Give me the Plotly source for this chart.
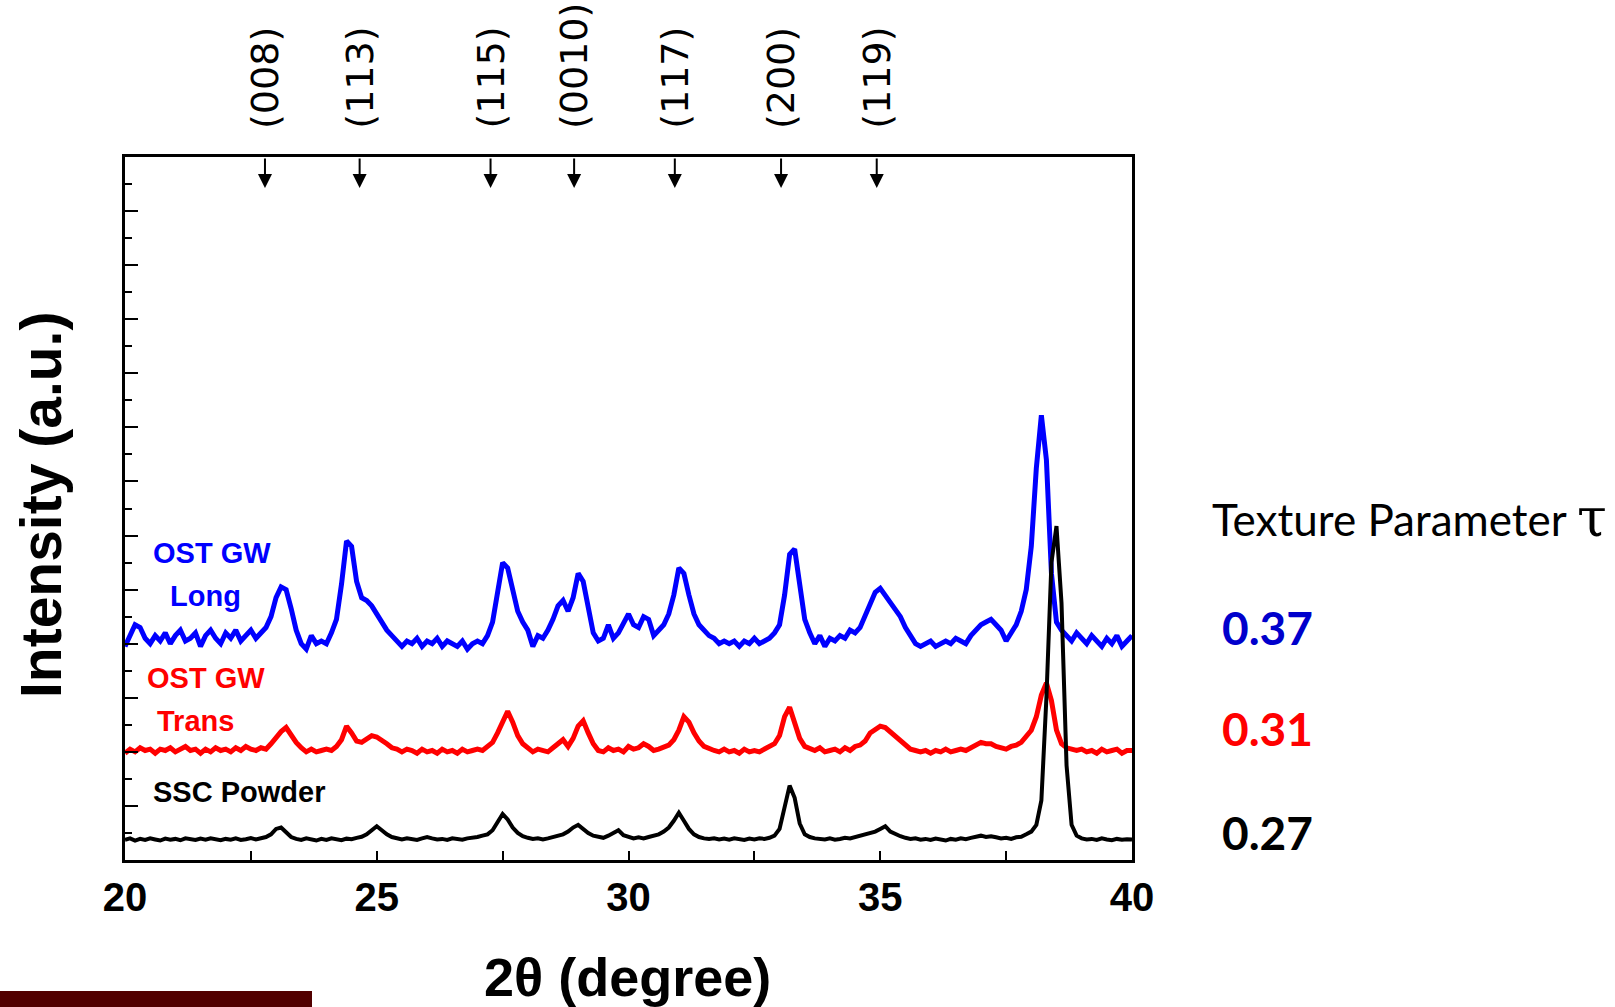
import plotly.graph_objects as go

# ---------------- data ----------------
two_theta = [round(20 + 0.1 * i, 1) for i in range(201)]

ost_gw_long = [
    7.9, 8.3, 8.7, 8.6, 8.2, 8.0, 8.3, 8.1, 8.4, 8.0,
    8.3, 8.5, 8.1, 8.2, 8.4, 7.9, 8.3, 8.5, 8.2, 8.0,
    8.4, 8.2, 8.5, 8.1, 8.3, 8.5, 8.2, 8.4, 8.6, 9.0,
    9.7, 10.1, 10.0, 9.3, 8.5, 8.0, 7.8, 8.3, 8.0, 8.1,
    8.0, 8.4, 8.9, 10.2, 11.8, 11.6, 10.3, 9.7, 9.6, 9.4,
    9.1, 8.8, 8.5, 8.3, 8.1, 7.9, 8.1, 8.0, 8.2, 7.9,
    8.1, 8.0, 8.2, 7.9, 8.1, 8.0, 7.9, 8.1, 7.8, 8.0,
    8.1, 8.0, 8.3, 8.8, 10.0, 11.0, 10.8, 9.9, 9.2, 8.8,
    8.5, 7.9, 8.3, 8.2, 8.5, 8.9, 9.4, 9.6, 9.2, 9.7,
    10.6, 10.3, 9.4, 8.4, 8.1, 8.2, 8.7, 8.2, 8.4, 8.8,
    9.1, 8.7, 8.6, 9.0, 8.9, 8.3, 8.5, 8.7, 9.1, 9.8,
    10.8, 10.6, 9.8, 9.1, 8.7, 8.5, 8.3, 8.2, 8.0, 8.1,
    8.0, 8.1, 7.9, 8.1, 8.0, 8.2, 8.0, 8.1, 8.2, 8.4,
    8.7, 9.8, 11.3, 11.5, 10.1, 8.9, 8.4, 8.0, 8.3, 7.9,
    8.2, 8.1, 8.3, 8.2, 8.5, 8.4, 8.6, 9.0, 9.4, 9.9,
    10.05, 9.8, 9.5, 9.3, 9.0, 8.6, 8.3, 8.0, 7.9, 8.0,
    8.1, 7.9, 8.0, 8.1, 8.0, 8.2, 8.1, 8.0, 8.3, 8.5,
    8.7, 8.8, 8.9, 8.7, 8.5, 8.1, 8.4, 8.7, 9.2, 10.0,
    11.6, 14.5, 16.45, 14.8, 10.6, 8.8, 8.5, 8.3, 8.1, 8.4,
    8.2, 8.0, 8.3, 8.1, 7.9, 8.2, 8.0, 8.3, 7.9, 8.1,
    8.3,
]

ost_gw_trans = [
    3.95, 4.1, 4.0, 4.15, 4.05, 4.1, 3.95, 4.1, 4.05, 4.15,
    4.0, 4.1, 4.2, 4.05, 4.1, 3.95, 4.1, 4.0, 4.15, 4.05,
    4.1, 4.0, 4.15, 4.05, 4.2, 4.1, 4.05, 4.15, 4.1, 4.3,
    4.55, 4.75, 4.9, 4.6, 4.35, 4.15, 4.0, 4.1, 4.0, 4.05,
    4.1, 4.05, 4.2, 4.45, 4.95, 4.7, 4.4, 4.35, 4.5, 4.6,
    4.55, 4.45, 4.3, 4.15, 4.1, 4.0, 4.1, 4.05, 3.95, 4.1,
    4.0, 4.05, 3.95, 4.1, 4.0, 4.05, 3.95, 4.1, 4.0, 4.05,
    4.1, 4.05, 4.2, 4.35, 4.7, 5.15, 5.5, 5.1, 4.6, 4.3,
    4.15, 4.0, 4.1, 4.05, 4.0, 4.15, 4.3, 4.45, 4.2, 4.5,
    4.95, 5.15, 4.7, 4.3, 4.05, 4.0, 4.15, 4.05, 4.1, 4.0,
    4.2, 4.1, 4.15, 4.3, 4.2, 4.05, 4.1, 4.2, 4.25, 4.45,
    4.8, 5.3, 5.1, 4.7, 4.4, 4.2, 4.1, 4.05, 4.0, 4.1,
    4.0, 4.05, 3.95, 4.1, 4.0, 4.05, 4.0, 4.1, 4.15, 4.3,
    4.6, 5.3, 5.65, 5.1, 4.5, 4.2, 4.1, 4.05, 4.15, 4.0,
    4.05, 4.1, 4.0, 4.15, 4.05, 4.2, 4.25, 4.4, 4.7, 4.85,
    4.95, 4.9, 4.75, 4.55, 4.4, 4.25, 4.1, 4.05, 4.0, 4.05,
    3.95, 4.05, 4.0, 4.1, 4.0, 4.05, 4.1, 4.05, 4.15, 4.2,
    4.35, 4.3, 4.3, 4.2, 4.15, 4.1, 4.2, 4.25, 4.35, 4.55,
    4.8, 5.3, 6.1, 6.55, 5.9, 4.8, 4.3, 4.15, 4.1, 4.05,
    4.1, 4.0, 4.05, 3.95, 4.1, 4.0, 4.05, 4.1, 3.95, 4.05,
    4.05,
]

ssc_powder = [
    0.75, 0.8, 0.72, 0.78, 0.74, 0.8, 0.76, 0.72, 0.79, 0.75,
    0.78, 0.73, 0.8, 0.76, 0.74, 0.79, 0.75, 0.8, 0.77, 0.73,
    0.78, 0.75, 0.8, 0.74, 0.77, 0.81, 0.76, 0.8, 0.85, 0.95,
    1.15, 1.2, 1.0, 0.85, 0.78, 0.74, 0.8, 0.76, 0.72, 0.78,
    0.74, 0.8, 0.76, 0.73, 0.79, 0.77, 0.82, 0.86, 0.95, 1.1,
    1.25, 1.1, 0.95, 0.85, 0.8, 0.76, 0.8, 0.78, 0.74, 0.8,
    0.85, 0.8, 0.76, 0.78, 0.74, 0.8, 0.77, 0.75, 0.8, 0.82,
    0.85, 0.9, 0.95, 1.1, 1.4, 1.7, 1.5, 1.2, 1.0, 0.88,
    0.82, 0.78, 0.8, 0.76, 0.8, 0.85, 0.9, 0.95, 1.05, 1.2,
    1.3, 1.15, 1.0, 0.9, 0.85, 0.82, 0.9, 1.0, 1.1, 0.92,
    0.85, 0.8, 0.84, 0.8, 0.85, 0.9, 0.95, 1.05, 1.2, 1.45,
    1.75, 1.45, 1.15, 0.95, 0.85, 0.8, 0.78, 0.8, 0.76, 0.79,
    0.75, 0.8, 0.77, 0.74, 0.79, 0.76, 0.8, 0.78, 0.82, 0.9,
    1.15, 1.9, 2.75, 2.3, 1.35, 0.95, 0.85, 0.8, 0.78, 0.76,
    0.8, 0.75, 0.78, 0.82, 0.8, 0.85, 0.9, 0.95, 1.0, 1.05,
    1.15, 1.25, 1.05, 0.95, 0.88, 0.82, 0.78, 0.8, 0.75, 0.78,
    0.74, 0.79, 0.76, 0.72, 0.78, 0.75, 0.8, 0.77, 0.82, 0.86,
    0.9, 0.85, 0.88, 0.84, 0.8, 0.82, 0.78, 0.84, 0.86, 0.95,
    1.05, 1.3, 2.2, 6.0, 11.0, 12.35, 9.5, 3.5, 1.3, 0.9,
    0.8, 0.76, 0.78, 0.74, 0.8, 0.76, 0.73, 0.78, 0.75, 0.77,
    0.76,
]

hkl_labels = ["(008)", "(113)", "(115)", "(0010)", "(117)", "(200)", "(119)"]
hkl_positions = [22.78, 24.66, 27.26, 28.92, 30.92, 33.03, 34.93]

texture_values = ["0.37", "0.31", "0.27"]
x_tick_values = [20, 25, 30, 35, 40]
x_tick_labels = ["20", "25", "30", "35", "40"]

# ---------------- geometry helpers ----------------
W, H = 1615, 1007
L, R, T, B = 125, 1132, 157, 860


def px(x):
    return (x - L) / (R - L)


def py(y):
    return (B - y) / (B - T)


ARIAL = "Arial, Liberation Sans, sans-serif"

fig = go.Figure()
series = [
    ("OST GW Long", ost_gw_long, "#0000FF", 5),
    ("OST GW Trans", ost_gw_trans, "#FF0000", 5),
    ("SSC Powder", ssc_powder, "#000000", 4),
]
for name, ys, col, w in series:
    fig.add_trace(go.Scatter(x=two_theta, y=ys, mode="lines", name=name,
                             line=dict(color=col, width=w), showlegend=False))

annotations = []
# hkl arrows and labels
for lab, pos in zip(hkl_labels, hkl_positions):
    annotations.append(dict(x=pos, xref="x", y=py(188), yref="paper", text="",
                            showarrow=True, ax=0, ay=-31, arrowhead=2,
                            arrowsize=1.4, arrowwidth=2, arrowcolor="black",
                            standoff=0))
    annotations.append(dict(x=pos, xref="x", y=py(131), yref="paper", text=lab,
                            textangle=-90, showarrow=False, xanchor="center",
                            yanchor="bottom",
                            font=dict(family="DejaVu Sans, Verdana", size=38,
                                      color="black")))

# curve labels
curve_labels = [
    ("OST GW", 212, 553, "#0000FF"),
    ("Long", 205, 596, "#0000FF"),
    ("OST GW", 206, 678, "#FF0000"),
    ("Trans", 195, 721, "#FF0000"),
    ("SSC Powder", 239, 792, "#000000"),
]
for txt, cx, cy, col in curve_labels:
    annotations.append(dict(x=px(cx), y=py(cy), xref="paper", yref="paper",
                            text=txt, showarrow=False, xanchor="center",
                            yanchor="middle",
                            font=dict(family=ARIAL, size=29, color=col,
                                      weight="bold")))

# texture parameter
annotations.append(dict(x=px(1210), y=py(517), xref="paper", yref="paper",
                        text="Texture Parameter <span style=\"font-family:'DejaVu Serif';font-size:54px\">τ</span>",
                        showarrow=False,
                        xanchor="left", yanchor="middle",
                        font=dict(family="Lato, Noto Sans", size=44,
                                  color="black")))
for val, cy, col in zip(texture_values, [627, 728, 832],
                        ["#0000CC", "#FF0000", "#000000"]):
    annotations.append(dict(x=px(1220), y=py(cy), xref="paper", yref="paper",
                            text=val, showarrow=False, xanchor="left",
                            yanchor="middle",
                            font=dict(family="Lato, Noto Sans", size=46,
                                      color=col, weight="bold")))

# axis titles
annotations.append(dict(x=px(41), y=py(505), xref="paper", yref="paper",
                        text="Intensity (a.u.)", textangle=-90,
                        showarrow=False, xanchor="center", yanchor="middle",
                        font=dict(family=ARIAL, size=57, color="black",
                                  weight="bold")))
annotations.append(dict(x=px(627), y=py(977), xref="paper", yref="paper",
                        text="2θ (degree)", showarrow=False,
                        xanchor="center", yanchor="middle",
                        font=dict(family=ARIAL, size=54, color="black",
                                  weight="bold")))

fig.update_layout(
    width=W, height=H,
    margin=dict(l=L, r=W - R, t=T, b=H - B),
    plot_bgcolor="white", paper_bgcolor="white",
    annotations=annotations,
    shapes=[dict(type="rect", xref="paper", yref="paper",
                 x0=px(0), x1=px(312), y0=py(1007), y1=py(991),
                 fillcolor="#520000", line=dict(width=0), layer="above")],
)
fig.update_xaxes(range=[20, 40], showgrid=False, zeroline=False,
                 showline=True, linecolor="black", linewidth=3, mirror=True,
                 ticks="inside", ticklen=9, tickwidth=2, tickcolor="black",
                 tickmode="array", tickvals=x_tick_values,
                 ticktext=x_tick_labels,
                 minor=dict(dtick=2.5, tick0=20, ticks="inside", ticklen=9,
                            tickwidth=2, tickcolor="black"),
                 tickfont=dict(family=ARIAL, size=40, color="black",
                               weight="bold"),
                 ticklabelstandoff=0)
fig.update_yaxes(range=[0, 26], showgrid=False, zeroline=False,
                 showline=True, linecolor="black", linewidth=3, mirror=True,
                 ticks="inside", ticklen=13, tickwidth=2, tickcolor="black",
                 dtick=2, tick0=0, showticklabels=False,
                 minor=dict(dtick=1, tick0=0, ticks="inside", ticklen=7,
                            tickwidth=2, tickcolor="black"))

fig.write_html("out.html",
               config={"displayModeBar": False},
               post_script="document.body.style.margin='0';"
                           "document.body.style.overflow='hidden';")
